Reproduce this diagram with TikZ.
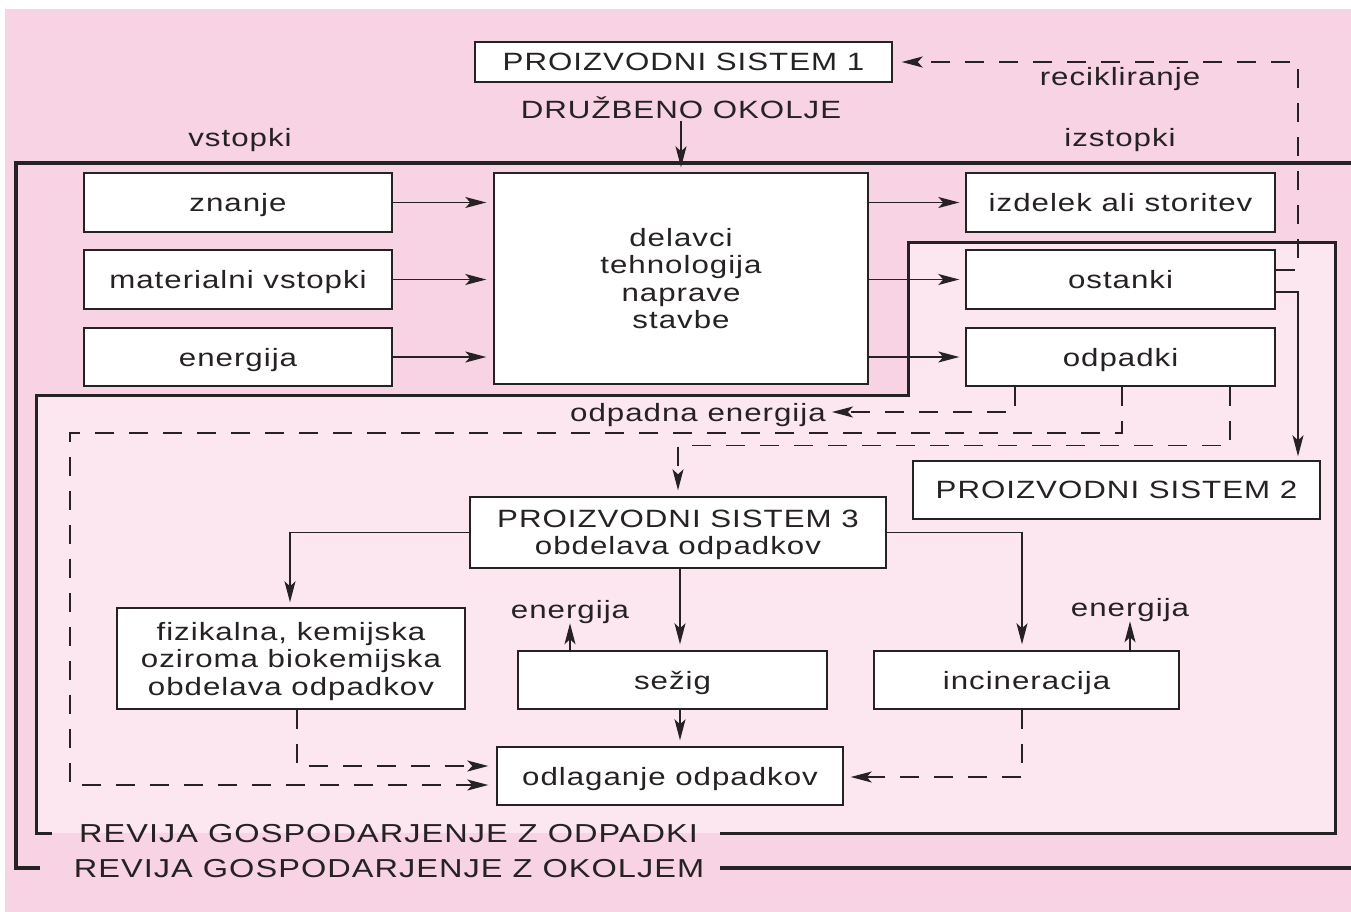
\documentclass[tikz,border=0pt]{standalone}
\usepackage{fontspec}
\setmainfont{Liberation Sans}[FakeStretch=1.25,LetterSpace=4]
\usetikzlibrary{arrows.meta,calc}
\definecolor{bgpink}{HTML}{F8D3E3}
\definecolor{inpink}{HTML}{FCE6EF}
\definecolor{ink}{HTML}{262223}
\begin{document}
\begin{tikzpicture}[x=1pt,y=-1pt,
  every node/.style={font=\fontsize{25pt}{27.5pt}\selectfont, text=ink, inner sep=2pt, text depth=0pt},
  box/.style={draw=ink, line width=1.4pt, fill=white, align=center},
  lbl/.style={align=center},
  revlbl/.style={font=\fontsize{26pt}{28pt}\selectfont},
  frameline/.style={draw=ink, line width=3.8pt},
  iframeline/.style={draw=ink, line width=3pt},
  arr/.style={draw=ink, line width=1.4pt, -{Stealth[length=21pt,width=11pt,inset=5pt]}},
  dsh/.style={arr, dash pattern=on 19pt off 15pt}
]
\useasboundingbox (0,0) rectangle (1351,912);
\fill[white] (0,0) rectangle (1351,912);
\fill[bgpink] (5,9) rectangle (1351,912);
% inner (waste management) region
\fill[inpink] (36,833) -- (36,395) -- (908,395) -- (908,242) -- (1335,242) -- (1335,833) -- cycle;
% frames
\draw[frameline] (40,868) -- (16,868) -- (16,163) -- (1351,163);
\draw[frameline] (720,868) -- (1351,868);
\draw[iframeline] (52,833) -- (36,833) -- (36,395) -- (908,395) -- (908,242) -- (1335,242) -- (1335,833) -- (720,833);
\node[lbl, revlbl] (rev1) at (388.5,833) {REVIJA GOSPODARJENJE Z ODPADKI};
\node[lbl, revlbl] (rev2) at (389,868) {REVIJA GOSPODARJENJE Z OKOLJEM};

% top labels
\node[box, minimum width=417pt, minimum height=40pt] (ps1) at (683.5,62) {PROIZVODNI SISTEM 1};
\node[lbl] (dr) at (681,108) {DRUŽBENO OKOLJE};
\node[lbl] (vst) at (240,137) {vstopki};
\node[lbl] (izs) at (1120,137) {izstopki};
\node[lbl] (rec) at (1120,76) {recikliranje};

% inputs
\node[box, minimum width=308pt, minimum height=59pt] (znanje) at (238,202.5) {znanje};
\node[box, minimum width=308pt, minimum height=59pt] (mat) at (238,279.5) {materialni vstopki};
\node[box, minimum width=308pt, minimum height=58pt] (ene) at (238,357) {energija};
% process
\node[box, minimum width=374pt, minimum height=211pt] (cbox) at (681,278.5) {delavci\\tehnologija\\naprave\\stavbe};
% outputs
\node[box, minimum width=309pt, minimum height=59pt] (izd) at (1120.5,202.5) {izdelek ali storitev};
\node[box, minimum width=309pt, minimum height=59pt] (ost) at (1120.5,279.5) {ostanki};
\node[box, minimum width=309pt, minimum height=58pt] (odp) at (1120.5,357) {odpadki};

\node[lbl] (oe) at (698,412) {odpadna energija};
\node[box, minimum width=407pt, minimum height=58pt] (ps2) at (1116.5,490) {PROIZVODNI SISTEM 2};
\node[box, minimum width=416pt, minimum height=71pt] (ps3) at (678,532.5) {PROIZVODNI SISTEM 3\\obdelava odpadkov};
\node[box, minimum width=348pt, minimum height=101pt] (fiz) at (291,658.5) {fizikalna, kemijska\\oziroma biokemijska\\obdelava odpadkov};
\node[box, minimum width=309pt, minimum height=58pt] (sez) at (672.5,680) {sežig};
\node[box, minimum width=305pt, minimum height=58pt] (inc) at (1026.5,680) {incineracija};
\node[box, minimum width=346pt, minimum height=58pt] (odl) at (670,776) {odlaganje odpadkov};
\node[lbl] (e1) at (570,609) {energija};
\node[lbl] (e2) at (1130,607) {energija};

% solid arrows
\draw[arr, shorten >=5pt] (dr.south) -- (cbox.north);
\foreach \n in {znanje,mat,ene}{
  \draw[arr, shorten >=7pt] (\n.east) -- (\n.east -| cbox.west);
}
\foreach \n in {izd,ost,odp}{
  \draw[arr, shorten >=6pt] (cbox.east |- \n.west) -- (\n.west);
}
\draw[arr, shorten >=4pt] ([yshift=-12.5pt]ost.east) -| ([xshift=181.5pt]ps2.north);
\draw[arr, shorten >=5pt] (ps3.west) -| ([xshift=-1pt]fiz.north);
\draw[arr, shorten >=6pt] ([xshift=2pt]ps3.south) -- ([xshift=7.5pt]sez.north);
\draw[arr, shorten >=6pt] (ps3.east) -| ([xshift=-4.5pt]inc.north);
\draw[arr, shorten >=3pt] (sez.north -| e1.south) -- (e1.south);
\draw[arr, shorten >=3pt] (inc.north -| e2.south) -- (e2.south);

% dashed arrows
\coordinate (rc) at (1298,62);
\draw[dsh, shorten >=9pt] ([yshift=9.5pt]ost.east) -| (rc) -- (ps1.east);
\draw[dsh, shorten >=4pt] ([xshift=-105.5pt]odp.south) |- (oe.east);
\coordinate (lc) at (70,433);
\draw[dsh, shorten >=8pt] ([xshift=1.5pt]odp.south) |- (lc) |- ([yshift=-9pt]odl.west);
\draw[dsh, shorten >=6pt] ([xshift=109.5pt]odp.south) -- ++(0,59) -| (ps3.north);
\draw[dsh, shorten >=8pt] ([xshift=6pt]fiz.south) |- ([yshift=10pt]odl.west);
\draw[dsh, shorten >=7pt] ([xshift=-4.5pt]inc.south) |- ([yshift=-1pt]odl.east);
\draw[dsh, shorten >=6pt] ([xshift=7.5pt]sez.south) -- ([xshift=10pt]odl.north);
\end{tikzpicture}
\end{document}
